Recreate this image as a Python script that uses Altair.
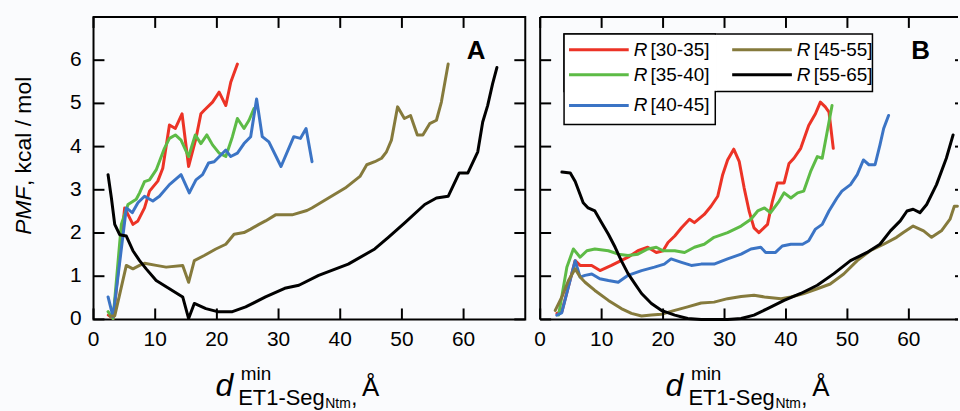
import altair as alt
import pandas as pd

FONT = "Liberation Sans"
BG = "#fafbfd"

SERIES = ["R [30-35]", "R [35-40]", "R [40-45]", "R [45-55]", "R [55-65]"]
COLORS = ["#ec3326", "#5dbb46", "#3b74c5", "#857a3c", "#000000"]
X_TICKS = [0, 10, 20, 30, 40, 50, 60]
Y_TICKS = [0, 1, 2, 3, 4, 5, 6]

# ---------------- Panel A ----------------
A_RED_X = [2.4, 3.2, 5.05, 6.39, 7.20, 8.27, 9.08, 10.42, 11.23, 12.31, 13.27, 14.35, 15.42,
           16.61, 17.41, 17.95, 19.30, 20.37, 21.45, 22.25, 23.33]
A_RED_Y = [0.10, 0.02, 2.58, 2.20, 2.28, 2.58, 2.97, 3.20, 3.50, 4.50, 4.42, 4.76, 3.54,
           4.19, 4.76, 4.84, 5.03, 5.26, 4.95, 5.49, 5.91]

A_GREEN_X = [2.36, 3.17, 4.51, 5.59, 6.93, 7.47, 8.27, 9.08, 10.16, 11.50, 12.31, 13.27, 14.19,
             15.42, 16.50, 17.41, 18.38, 19.30, 20.37, 21.45, 22.52, 23.33, 24.40, 25.21, 26.01]
A_GREEN_Y = [0.18, 0.02, 2.20, 2.66, 2.78, 2.93, 3.19, 3.23, 3.46, 3.96, 4.19, 4.27, 4.15,
             3.77, 4.27, 4.07, 4.27, 4.04, 3.85, 3.77, 4.23, 4.65, 4.42, 4.61, 4.88]

A_BLUE_X = [2.36, 3.17, 5.32, 6.28, 7.20, 8.27, 9.62, 10.69, 12.31, 14.19, 15.53, 16.61, 17.68,
            18.65, 19.56, 21.45, 22.25, 23.33, 24.40, 25.48, 26.44, 27.36, 28.43, 30.40, 32.47,
            33.54, 34.46, 35.43]
A_BLUE_Y = [0.52, 0.06, 2.58, 2.47, 2.70, 2.85, 2.74, 2.85, 3.12, 3.35, 2.93, 3.23, 3.35,
            3.62, 3.65, 3.92, 3.77, 3.85, 4.07, 4.23, 5.10, 4.23, 4.11, 3.54, 4.23,
            4.19, 4.42, 3.65]

A_OLIVE_X = [2.63, 3.44, 5.32, 6.39, 7.47, 8.27, 10.16, 11.77, 14.46, 15.42, 16.34, 17.95, 19.83,
             21.45, 22.79, 24.40, 25.48, 26.82, 27.89, 29.51, 32.2, 34.6, 35.4, 40.8, 43.2,
             44.3, 45.6, 46.7, 47.5, 48.3, 49.3, 50.4, 51.4, 52.5, 53.4, 54.5, 55.6, 56.4, 57.5]
A_OLIVE_Y = [0.08, 0.08, 1.25, 1.17, 1.25, 1.30, 1.25, 1.21, 1.25, 0.86, 1.36, 1.48, 1.63,
             1.74, 1.97, 2.01, 2.09, 2.20, 2.28, 2.42, 2.42, 2.52, 2.58, 3.04, 3.31,
             3.58, 3.65, 3.73, 3.88, 4.15, 4.92, 4.65, 4.72, 4.27, 4.27, 4.53, 4.61, 5.03, 5.91]

A_BLACK_X = [2.36, 2.90, 3.44, 4.24, 5.32, 6.39, 7.47, 8.54, 10.16, 12.31, 14.46, 15.42, 16.34,
             18.22, 20.10, 22.52, 24.67, 27.89, 31.0, 33.3, 36.5, 41.3, 45.6, 47.8, 50.5, 53.7,
             55.6, 57.5, 59.3, 60.7, 62.3, 63.1, 63.9, 64.7, 65.4]
A_BLACK_Y = [3.35, 2.81, 2.20, 1.96, 1.93, 1.59, 1.36, 1.17, 0.90, 0.71, 0.52, 0.02, 0.37,
             0.25, 0.18, 0.18, 0.29, 0.52, 0.72, 0.79, 1.02, 1.28, 1.63, 1.90, 2.24, 2.66,
             2.81, 2.85, 3.39, 3.39, 3.88, 4.57, 4.95, 5.45, 5.83]

# ---------------- Panel B ----------------
B_RED_X = [2.72, 3.53, 5.69, 6.5, 8.38, 9.73, 11.6, 14.3, 15.9, 17.5, 18.9, 20.0, 20.8, 21.9,
           23.0, 24.3, 25.1, 26.7, 27.8, 28.9, 29.7, 30.5, 31.5, 32.4, 33.2, 34.0, 34.8, 35.6,
           37.0, 37.8, 38.6, 39.7, 40.5, 41.3, 42.4, 43.7, 44.8, 45.6, 46.4, 47.0, 47.7]
B_RED_Y = [0.14, 0.18, 1.36, 1.25, 1.25, 1.13, 1.25, 1.44, 1.59, 1.67, 1.55, 1.59, 1.78, 1.93,
           2.12, 2.32, 2.24, 2.43, 2.62, 2.85, 3.35, 3.69, 3.94, 3.65, 3.04, 2.51, 2.12, 2.01,
           2.20, 2.74, 3.16, 3.16, 3.61, 3.73, 3.96, 4.49, 4.76, 5.03, 4.92, 4.80, 3.96]

B_GREEN_X = [3.0, 4.34, 5.4, 6.5, 7.6, 8.9, 11.1, 12.7, 14.3, 15.9, 17.5, 18.9, 20.0, 21.9,
             23.5, 25.1, 26.7, 28.3, 30.5, 32.7, 34.3, 35.4, 36.5, 37.5, 38.9, 39.7, 40.8,
             41.9, 42.9, 44.0, 45.1, 45.9, 46.7, 47.5]
B_GREEN_Y = [0.10, 1.21, 1.63, 1.44, 1.59, 1.63, 1.59, 1.51, 1.48, 1.51, 1.63, 1.67, 1.59, 1.59,
             1.55, 1.67, 1.74, 1.90, 2.01, 2.16, 2.32, 2.51, 2.58, 2.47, 2.74, 2.93, 2.81,
             2.93, 2.97, 3.42, 3.77, 3.73, 4.34, 4.95]

B_BLUE_X = [2.7, 3.5, 5.7, 6.5, 7.3, 8.4, 9.7, 11.1, 12.7, 14.3, 16.5, 18.6, 20.2, 21.3, 23.0,
            24.6, 26.2, 28.3, 30.5, 32.7, 34.3, 35.9, 36.7, 38.3, 39.4, 40.8, 42.7, 43.7, 44.8,
            45.9, 47.0, 48.3, 49.1, 50.5, 51.6, 52.6, 53.5, 54.5, 55.3, 55.9, 56.7]
B_BLUE_Y = [0.10, 0.15, 1.36, 0.98, 1.02, 1.05, 0.94, 0.90, 0.86, 1.02, 1.13, 1.21, 1.28, 1.40,
            1.32, 1.25, 1.28, 1.28, 1.40, 1.51, 1.63, 1.67, 1.55, 1.55, 1.70, 1.74, 1.74, 1.82,
            2.09, 2.20, 2.51, 2.81, 2.97, 3.12, 3.35, 3.69, 3.58, 3.58, 4.04, 4.42, 4.72]

B_OLIVE_X = [2.45, 3.53, 4.6, 5.7, 6.5, 7.3, 8.9, 11.1, 13.2, 14.85, 16.5, 18.1, 19.7, 21.9,
             24.0, 26.2, 28.3, 30.5, 32.7, 34.8, 36.5, 39.2, 40.8, 42.9, 45.1, 47.2, 49.4,
             51.6, 53.7, 55.9, 58.0, 59.1, 60.7, 62.4, 63.7, 65.3, 66.7, 67.4, 67.9]
B_OLIVE_Y = [0.21, 0.52, 0.90, 1.17, 0.98, 0.86, 0.67, 0.44, 0.25, 0.14, 0.08, 0.10, 0.12, 0.21,
             0.29, 0.38, 0.40, 0.48, 0.53, 0.56, 0.52, 0.48, 0.52, 0.60, 0.71, 0.82, 1.05,
             1.36, 1.59, 1.74, 1.90, 2.01, 2.16, 2.05, 1.90, 2.05, 2.32, 2.62, 2.62]

B_BLACK_X = [3.53, 4.9, 5.7, 6.5, 7.0, 7.8, 8.9, 10.0, 11.1, 12.2, 13.2, 14.3, 15.4, 16.5, 18.1,
             19.7, 21.9, 24.0, 26.2, 28.3, 30.5, 32.7, 34.8, 37.0, 39.7, 42.4, 45.1, 47.8,
             50.5, 53.2, 55.3, 57.0, 58.6, 59.7, 60.7, 61.8, 62.9, 64.5, 66.1, 67.2]
B_BLACK_Y = [3.41, 3.39, 3.19, 2.89, 2.70, 2.58, 2.51, 2.24, 1.97, 1.67, 1.36, 1.06, 0.83, 0.60,
             0.37, 0.21, 0.10, 0.02, 0.0, 0.0, 0.0, 0.02, 0.10, 0.25, 0.44, 0.60, 0.79, 1.06,
             1.36, 1.55, 1.74, 2.05, 2.28, 2.51, 2.55, 2.47, 2.66, 3.12, 3.73, 4.27]


def long_df(pairs):
    rows = []
    for name, xs, ys in pairs:
        for i, (x, y) in enumerate(zip(xs, ys)):
            rows.append({"series": name, "x": x, "y": y, "i": i})
    return pd.DataFrame(rows)


DF_A = long_df([(SERIES[0], A_RED_X, A_RED_Y), (SERIES[1], A_GREEN_X, A_GREEN_Y),
                (SERIES[2], A_BLUE_X, A_BLUE_Y), (SERIES[3], A_OLIVE_X, A_OLIVE_Y),
                (SERIES[4], A_BLACK_X, A_BLACK_Y)])
DF_B = long_df([(SERIES[0], B_RED_X, B_RED_Y), (SERIES[1], B_GREEN_X, B_GREEN_Y),
                (SERIES[2], B_BLUE_X, B_BLUE_Y), (SERIES[3], B_OLIVE_X, B_OLIVE_Y),
                (SERIES[4], B_BLACK_X, B_BLACK_Y)])
ONE = pd.DataFrame({"k": [0]})

H = 304
TICK = 11
YMAX = 7


def color_enc():
    return alt.Color("series:N", scale=alt.Scale(domain=SERIES, range=COLORS), legend=None)


def txt(s, x, y, size, style="normal", weight="normal", angle=0, align="left",
        baseline="alphabetic"):
    return alt.Chart(ONE).mark_text(
        text=s, fontSize=size, font=FONT, fontStyle=style, fontWeight=weight,
        angle=angle, align=align, baseline=baseline, color="black"
    ).encode(x=alt.value(x), y=alt.value(y))


def spacer(x1, x2):
    return alt.Chart(ONE).mark_rect(opacity=0).encode(
        x=alt.value(x1), x2=alt.value(x2), y=alt.value(100), y2=alt.value(110))


def hrule(x1, x2, y):
    return alt.Chart(ONE).mark_rule(color="black", strokeWidth=2).encode(
        x=alt.value(x1), x2=alt.value(x2), y=alt.value(y))


def vrule(x, y1, y2):
    return alt.Chart(ONE).mark_rule(color="black", strokeWidth=2).encode(
        x=alt.value(x), y=alt.value(y1), y2=alt.value(y2))


def xtitle(shift):
    return [
        txt("d", 122.5 + shift, 381, 32, style="italic"),
        txt("min", 148 + shift, 365, 19),
        txt("ET1-Seg", 145.5 + shift, 390, 22),
        txt("Ntm", 233 + shift, 393, 14),
        txt(",", 259 + shift, 390, 22),
        txt("Å", 270 + shift, 381, 26),
    ]


def panel(df, W, xmax, ylabels, letter, letter_x, shift, right_tick, extra):
    xs = alt.Scale(domain=[0, xmax], nice=False, zero=False)
    ys = alt.Scale(domain=[0, YMAX], nice=False)
    lines = alt.Chart(df).mark_line(strokeWidth=3, strokeJoin="round", strokeCap="round").encode(
        x=alt.X("x:Q", scale=xs, axis=None),
        y=alt.Y("y:Q", scale=ys, axis=None),
        color=color_enc(), order="i:Q",
    )
    # inward tick marks: tick values mapped linearly onto the panel (same mapping as the scales)
    xt = alt.Chart(pd.DataFrame({"xb": X_TICKS})).transform_calculate(
        px=f"datum.xb / {xmax} * {W}",
        ya=f"{H}", yb=f"{H - TICK}", yc="0", yd=f"{TICK}")
    yt = alt.Chart(pd.DataFrame({"yl": Y_TICKS})).transform_calculate(
        py=f"{H} - datum.yl / {YMAX} * {H}",
        xa="0", xb2=f"{TICK}", xc=f"{W - right_tick}", xd=f"{W}")
    tk = dict(color="black", strokeWidth=2)
    t_bottom = xt.mark_rule(**tk).encode(
        x=alt.X("px:Q", scale=None), y=alt.Y("ya:Q", scale=None), y2="yb:Q")
    t_top = xt.mark_rule(**tk).encode(
        x=alt.X("px:Q", scale=None), y=alt.Y("yc:Q", scale=None), y2="yd:Q")
    t_left = yt.mark_rule(**tk).encode(
        y=alt.Y("py:Q", scale=None), x=alt.X("xa:Q", scale=None), x2="xb2:Q")
    t_right = yt.mark_rule(**tk).encode(
        y=alt.Y("py:Q", scale=None), x=alt.X("xc:Q", scale=None), x2="xd:Q")
    x_labels = alt.Chart(pd.DataFrame({"xv": X_TICKS})).mark_text(
        fontSize=21, font=FONT, color="black", align="center", baseline="top").encode(
        x=alt.X("xv:Q", scale=xs, axis=None), y=alt.value(H + 10), text="xv:Q")
    layers = [lines, x_labels]
    if ylabels:
        layers.append(alt.Chart(pd.DataFrame({"yv": Y_TICKS})).mark_text(
            fontSize=21, font=FONT, color="black", align="right", baseline="middle").encode(
            y=alt.Y("yv:Q", scale=ys, axis=None), x=alt.value(-12), text="yv:Q"))
    layers += [t_bottom, t_top, t_left, t_right]
    layers += xtitle(shift) + [txt(letter, letter_x, 42, 26, weight="bold", align="center")] + extra
    return alt.layer(*layers).properties(width=W, height=H)


# y title for panel A + spacers fixing the layout bounds
extra_A = [
    txt("PMF", -69.5, 219, 23, style="italic", angle=270, baseline="middle"),
    txt(", kcal / mol", -69.5, 170, 23, angle=270, baseline="middle"),
    spacer(-92.5, -88),
    spacer(432, 436),
]

# legend for panel B (built from the series list)
LEG = alt.Chart(pd.DataFrame({"series": SERIES, "k": list(range(len(SERIES)))})).transform_calculate(
    col="floor(datum.k / 3)",
    row="datum.k % 3",
).transform_calculate(
    lx="29 + datum.col * 164",
    ly="[33, 58, 89][datum.row]",
    rng="slice(datum.series, 2)",
).transform_calculate(
    lx2="datum.lx + 60",
    rx="datum.lx + 65",
    bx="datum.lx + 82",
)
leg_lines = LEG.mark_rule(strokeWidth=3).encode(
    x=alt.X("lx:Q", scale=None), x2="lx2:Q", y=alt.Y("ly:Q", scale=None),
    color=color_enc())
leg_r = LEG.mark_text(text="R", fontSize=19, font=FONT, fontStyle="italic", align="left",
                      baseline="middle", color="black").encode(
    x=alt.X("rx:Q", scale=None), y=alt.Y("ly:Q", scale=None))
leg_rng = LEG.mark_text(fontSize=19, font=FONT, align="left", baseline="middle",
                        color="black").encode(
    x=alt.X("bx:Q", scale=None), y=alt.Y("ly:Q", scale=None), text="rng:N")


def box(x1, x2, y1, y2, stroke=True):
    kw = dict(fill="white")
    if stroke:
        kw.update(stroke="black", strokeWidth=1.5)
    return alt.Chart(ONE).mark_rect(**kw).encode(
        x=alt.value(x1), x2=alt.value(x2), y=alt.value(y1), y2=alt.value(y2))


WB = 420
extra_B = [hrule(0, WB, 0), hrule(0, WB, H), vrule(0, 0, H), spacer(-10.5, -5),
           box(24, 334, 17, 75), box(24, 176, 17, 108), box(174.5, 177.5, 18, 74.2, False),
           leg_lines, leg_r, leg_rng]

panelA = panel(DF_A, 434, 70, True, "A", 384.5, 0, TICK, extra_A)
panelB = panel(DF_B, WB, 68, False, "B", 382.5, 3.5, 3, extra_B).properties(
    view=alt.ViewBackground(stroke="transparent"))

chart = alt.hconcat(panelA, panelB, spacing=0).properties(
    padding={"left": 0, "top": 14, "right": 0, "bottom": 0},
    background=BG,
).configure_view(stroke="black", strokeWidth=2)

chart.save("out.html", embed_options={"renderer": "svg", "actions": False})
